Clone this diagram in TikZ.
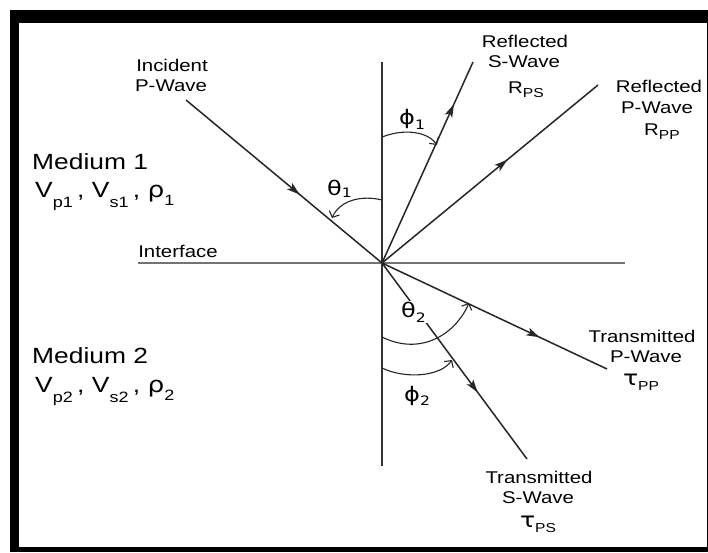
\documentclass[tikz,border=0pt]{standalone}
\usepackage{fontspec}
\setmainfont{Liberation Sans}
\newfontfamily\gk{DejaVu Sans}
\usetikzlibrary{arrows.meta,decorations.markings}
\newcommand{\sx}[1]{\scalebox{1.2}[1]{#1}}
\newcommand{\lsub}[3]{\raisebox{-#2pt}{\fontsize{#1}{#1}\selectfont #3}}
\begin{document}
\begin{tikzpicture}[x=1pt,y=-1pt,
  lab/.style={font=\fontsize{17}{20}\selectfont, inner sep=0pt, anchor=base},
  big/.style={font=\fontsize{22}{24}\selectfont, inner sep=0pt, anchor=base west},
  ang/.style={font=\fontsize{20}{22}\selectfont, inner sep=0pt, anchor=base west},
  wave/.style={line width=1.5pt, black!85},
  guide/.style={line width=1.5pt, black!80},
  iface/.style={line width=1.5pt, black!55},
  angarc/.style={line width=1.1pt, black!85, -{Straight Barb[length=5pt,width=11pt]}},
  midarrow/.style={postaction={decorate}, decoration={markings, mark=at position #1 with {\arrow{Stealth[length=13pt,width=8pt,inset=3pt]}}}}
]
\useasboundingbox (0,0) rectangle (708,552);
% frame
\fill[black] (10,10) rectangle (708,552);
\fill[white] (19,23) rectangle (707,547);

% coordinates
\coordinate (O) at (382,263);
\coordinate (vtop) at (382,62);
\coordinate (vbot) at (382,466);
\coordinate (ifl) at (138,263);
\coordinate (ifr) at (625,263);
\coordinate (inc) at (186,100);
\coordinate (rs) at (473,62);
\coordinate (rp) at (598,85);
\coordinate (tp) at (607,369);
\coordinate (ts) at (527,459);

% guides
\draw[guide] (vtop) -- (vbot);
\draw[iface] (ifl) -- (ifr);

% waves
\draw[wave, midarrow=0.58] (inc) -- (O);
\draw[wave, midarrow=0.79] (O) -- (rs);
\draw[wave, midarrow=0.58] (O) -- (rp);
\draw[wave, midarrow=0.70] (O) -- (tp);
\draw[wave, midarrow=0.66] (O) -- (ts);

% angle arcs
\coordinate (a1s) at (382,200); \coordinate (a1e) at (332,218);
\draw[angarc] (a1s) .. controls (362,195) and (340,200) .. (a1e);
\coordinate (b1s) at (382,137); \coordinate (b1e) at (437,145);
\draw[angarc] (b1s) .. controls (405,128) and (428,132) .. (b1e);
\coordinate (a2s) at (382,337); \coordinate (a2e) at (469,303);
\draw[angarc] (a2s) .. controls (420,356) and (455,335) .. (a2e);
\coordinate (b2s) at (382,368); \coordinate (b2e) at (452,360);
\draw[angarc] (b2s) .. controls (405,379) and (440,377) .. (b2e);

% angle labels
\node[ang] (th1) at (327,195) {\sx{\gk θ\lsub{13}{2}{1}}};
\node[ang] (ph1) at (399,124) {\sx{\gk ϕ\lsub{13}{5}{1}}};
\node[ang, fill=white, inner sep=1pt] (th2) at (400,317) {\sx{\gk θ\lsub{13}{5}{2}}};
\node[ang] (ph2) at (404,401) {\sx{\gk ϕ\lsub{13}{4}{2}}};

% wave labels
\node[lab] (incA) at (172,71) {\sx{Incident}};
\node[lab] (incB) at (171,91) {\sx{P-Wave}};
\node[lab] (rsA) at (525,47) {\sx{Reflected}};
\node[lab] (rsB) at (524,67) {\sx{S-Wave}};
\node[lab] (rsC) at (526,93) {\sx{R\lsub{13}{4}{PS}}};
\node[lab] (rpA) at (659,92) {\sx{Reflected}};
\node[lab] (rpB) at (657,113) {\sx{P-Wave}};
\node[lab] (rpC) at (662,135) {\sx{R\lsub{13}{4}{PP}}};
\node[lab] (tpA) at (642,342) {\sx{Transmitted}};
\node[lab] (tpB) at (646,362) {\sx{P-Wave}};
\node[lab] (tpC) at (641,385) {\sx{{\fontsize{21}{21}\selectfont\gk τ}\lsub{13}{5}{PP}}};
\node[lab] (tsA) at (539,483) {\sx{Transmitted}};
\node[lab] (tsB) at (538,503) {\sx{S-Wave}};
\node[lab] (tsC) at (538,527) {\sx{{\fontsize{21}{21}\selectfont\gk τ}\lsub{13}{5}{PS}}};
\node[lab] (ifc) at (178,257) {\sx{Interface}};

% media
\node[big] (m1) at (32,169) {\sx{Medium 1}};
\node[big] (m1p) at (35,197) {\sx{V\lsub{15}{10}{p1}\,, V\lsub{15}{10}{s1}\,, {\gk ρ}\lsub{15}{8}{1}}};
\node[big] (m2) at (32,363) {\sx{Medium 2}};
\node[big] (m2p) at (35,392) {\sx{V\lsub{15}{10}{p2}\,, V\lsub{15}{10}{s2}\,, {\gk ρ}\lsub{15}{8}{2}}};
\end{tikzpicture}
\end{document}
